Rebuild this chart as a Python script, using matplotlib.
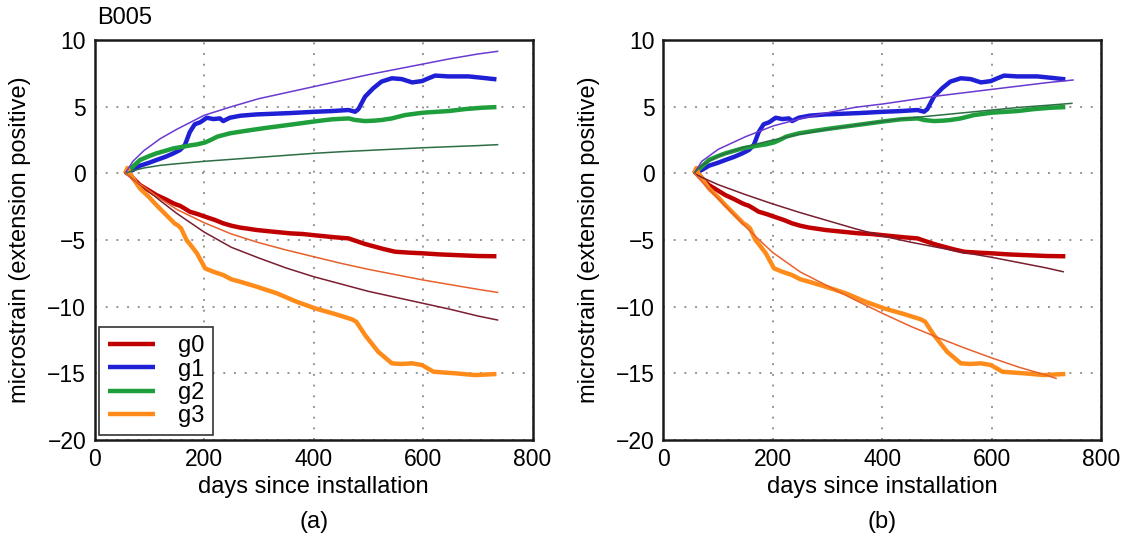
import matplotlib
matplotlib.use("Agg")
import matplotlib.pyplot as plt

plt.rcParams['font.family'] = ['Liberation Sans', 'DejaVu Sans']

# ---- observed strain (same records in both panels) ----
g0_days = [56, 60, 70, 83, 100, 113, 130, 144, 150, 156, 165, 174, 188, 202, 220, 235, 250, 266,
           280, 296, 327, 357, 380, 403, 440, 464, 476, 494, 512, 530, 549, 575, 600, 630, 659,
           700, 734]
g0_vals = [0.0, 0.2, -0.35, -0.88, -1.3, -1.63, -1.95, -2.25, -2.35, -2.43, -2.65, -2.88, -3.05,
           -3.25, -3.5, -3.75, -3.93, -4.07, -4.15, -4.25, -4.38, -4.5, -4.55, -4.65, -4.8, -4.88,
           -5.05, -5.3, -5.5, -5.7, -5.88, -5.95, -6.0, -6.08, -6.13, -6.2, -6.22]

g1_days = [56, 70, 83, 100, 113, 130, 144, 156, 165, 174, 183, 193, 205, 217, 229, 235, 247, 266,
           296, 327, 357, 403, 433, 464, 476, 482, 494, 509, 524, 543, 561, 580, 598, 610, 622,
           646, 683, 707, 734]
g1_vals = [0.0, 0.25, 0.57, 0.8, 1.0, 1.25, 1.5, 1.75, 2.12, 3.1, 3.68, 3.83, 4.17, 4.07, 4.12,
           3.92, 4.17, 4.32, 4.42, 4.47, 4.52, 4.62, 4.67, 4.75, 4.62, 4.82, 5.75, 6.38, 6.88,
           7.13, 7.07, 6.82, 6.92, 7.13, 7.33, 7.27, 7.27, 7.17, 7.05]

g2_days = [56, 70, 83, 100, 113, 130, 144, 162, 175, 187, 202, 212, 224, 247, 278, 308, 345, 376,
           403, 433, 464, 476, 494, 510, 524, 543, 567, 600, 646, 677, 707, 734]
g2_vals = [0.0, 0.5, 1.0, 1.3, 1.5, 1.7, 1.87, 2.0, 2.1, 2.17, 2.32, 2.5, 2.75, 3.0, 3.2, 3.38,
           3.58, 3.75, 3.9, 4.05, 4.12, 4.0, 3.92, 3.95, 4.0, 4.12, 4.37, 4.55, 4.67, 4.82, 4.92,
           4.97]

g3_days = [56, 60, 64, 83, 100, 113, 131, 146, 152, 158, 168, 174, 187, 202, 217, 235, 250, 266,
           296, 333, 369, 403, 439, 470, 478, 494, 518, 543, 560, 580, 598, 619, 659, 695, 734]
g3_vals = [0.0, 0.4, 0.0, -1.13, -1.8, -2.38, -3.13, -3.75, -3.9, -4.12, -5.0, -5.3, -6.0, -7.13,
           -7.38, -7.63, -7.95, -8.13, -8.5, -9.0, -9.63, -10.13, -10.55, -10.95, -11.13, -12.13,
           -13.38, -14.25, -14.3, -14.25, -14.38, -14.88, -15.0, -15.13, -15.05]

# ---- model curves, panel (a) ----
a_fit_days = [56, 70, 90, 120, 150, 200, 250, 300, 350, 400, 450, 500, 550, 600, 650, 700, 736]
a_fit_g0 = [0.0, -0.45, -1.05, -2.05, -3.0, -4.4, -5.55, -6.35, -7.1, -7.75, -8.3, -8.85, -9.3,
            -9.75, -10.2, -10.7, -11.0]
a_fit_g1 = [0.0, 0.9, 1.7, 2.6, 3.3, 4.35, 5.0, 5.6, 6.05, 6.5, 6.95, 7.4, 7.8, 8.2, 8.6, 8.95,
            9.15]
a_fit_g2 = [0.0, 0.2, 0.4, 0.6, 0.72, 0.9, 1.05, 1.2, 1.35, 1.5, 1.62, 1.72, 1.82, 1.92, 2.0,
            2.08, 2.15]
a_fit_g3 = [0.0, -0.45, -1.0, -1.9, -2.7, -3.7, -4.55, -5.2, -5.75, -6.25, -6.75, -7.2, -7.6,
            -8.0, -8.35, -8.7, -8.93]

# ---- model curves, panel (b) ----
b_fit_g0_days = [56, 70, 100, 150, 200, 250, 300, 350, 400, 450, 500, 550, 600, 650, 700, 730]
b_fit_g0 = [0.0, -0.3, -0.85, -1.6, -2.3, -2.95, -3.55, -4.15, -4.7, -5.15, -5.55, -5.95, -6.3,
            -6.7, -7.1, -7.38]
b_fit_g1_days = [56, 70, 100, 150, 200, 250, 300, 350, 400, 450, 500, 550, 600, 650, 700, 748]
b_fit_g1 = [0.0, 0.9, 1.8, 2.75, 3.55, 4.1, 4.55, 4.95, 5.2, 5.5, 5.8, 6.05, 6.3, 6.55, 6.8, 7.0]
b_fit_g2_days = [56, 70, 100, 150, 200, 250, 300, 350, 400, 450, 500, 550, 600, 650, 700, 746]
b_fit_g2 = [0.0, 0.6, 1.3, 2.0, 2.5, 2.95, 3.3, 3.6, 3.9, 4.15, 4.35, 4.55, 4.75, 4.95, 5.1,
            5.25]
b_fit_g3_days = [56, 75, 100, 125, 150, 175, 200, 250, 300, 350, 400, 450, 500, 550, 600, 650,
                 700, 717]
b_fit_g3 = [0.0, -0.85, -1.9, -2.95, -4.0, -5.0, -5.95, -7.4, -8.45, -9.5, -10.5, -11.45,
            -12.3, -13.1, -13.85, -14.55, -15.15, -15.38]

gauge_names = ['g0', 'g1', 'g2', 'g3']
obs_colors = ['#c00000', '#1f1fd6', '#1f9e3c', '#ff8c1a']
fit_colors = ['#7a1e30', '#6a3ad0', '#2d6e45', '#e8612c']

x_ticks = [0, 200, 400, 600, 800]
y_ticks = [-20, -15, -10, -5, 0, 5, 10]
x_tick_labels = ['0', '200', '400', '600', '800']
y_tick_labels = ['\u221220', '\u221215', '\u221210', '\u22125', '0', '5', '10']

observed = [(g0_days, g0_vals), (g1_days, g1_vals), (g2_days, g2_vals), (g3_days, g3_vals)]
fits_a = [(a_fit_days, a_fit_g0), (a_fit_days, a_fit_g1), (a_fit_days, a_fit_g2),
          (a_fit_days, a_fit_g3)]
fits_b = [(b_fit_g0_days, b_fit_g0), (b_fit_g1_days, b_fit_g1), (b_fit_g2_days, b_fit_g2),
          (b_fit_g3_days, b_fit_g3)]

FS = 17

fig = plt.figure(figsize=(11.31, 5.40), dpi=100)
ax_a = fig.add_axes([0.0836, 0.1852, 0.3873, 0.7407])
ax_b = fig.add_axes([0.5866, 0.1852, 0.3873, 0.7407])

for ax, fits, tag in [(ax_a, fits_a, '(a)'), (ax_b, fits_b, '(b)')]:
    for (d, v), c, name in zip(observed, obs_colors, gauge_names):
        ax.plot(d, v, color=c, lw=3.2, solid_capstyle='butt', label=name, zorder=3)
    for (d, v), c in zip(fits, fit_colors):
        ax.plot(d, v, color=c, lw=1.1, zorder=4)

    ax.set_xlim(0, 800)
    ax.set_ylim(-20, 10)
    ax.set_xticks(x_ticks)
    ax.set_xticklabels(x_tick_labels)
    ax.set_yticks(y_ticks)
    ax.set_yticklabels(y_tick_labels)
    ax.tick_params(direction='in', length=0, labelsize=16.5, pad=6)
    ax.grid(True, color='#959595', linestyle=(0, (1.0, 4.5)), linewidth=1.4)
    for s in ax.spines.values():
        s.set_linewidth(1.8)
        s.set_color('#1a1a1a')

    ax.set_xlabel('days since installation', fontsize=FS)
    ax.xaxis.label.set_va('center')
    ax.xaxis.set_label_coords(0.5, -0.118)
    ax.set_ylabel('microstrain (extension positive)', fontsize=FS)
    ax.yaxis.label.set_va('center')
    ax.yaxis.set_label_coords(-0.17, 0.5)
    ax.text(0.5, -0.205, tag, transform=ax.transAxes, ha='center', va='center', fontsize=FS)

leg = ax_a.legend(loc='lower left', fontsize=FS, handlelength=2.0, handletextpad=1.0,
                  borderpad=0.35, labelspacing=0.05, fancybox=False, framealpha=1,
                  borderaxespad=0.2)
leg.get_frame().set_edgecolor('#333333')
leg.get_frame().set_linewidth(1.2)

fig.text(0.086, 0.967, 'B005', fontsize=FS, ha='left', va='center')

fig.savefig('out.png', dpi=100)
